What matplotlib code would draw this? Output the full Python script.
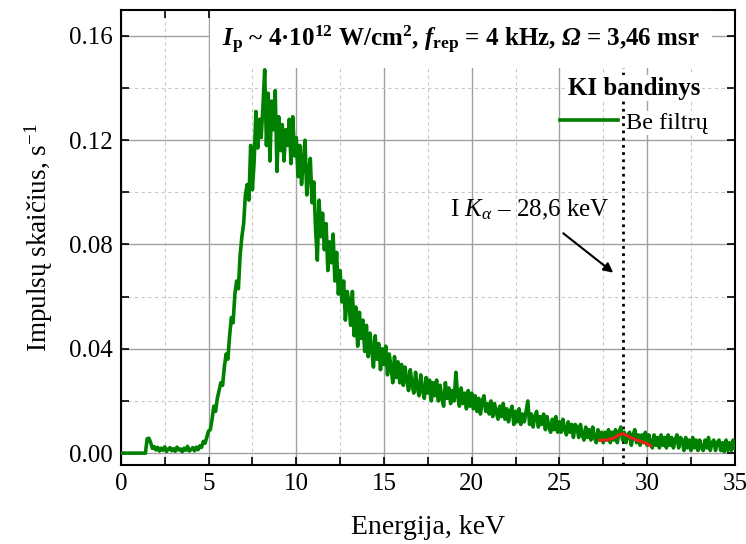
import numpy as np
import matplotlib
matplotlib.use("Agg")
import matplotlib.pyplot as plt
from matplotlib.ticker import MultipleLocator, FormatStrFormatter

plt.rcParams['font.family'] = ['Liberation Serif', 'DejaVu Serif']
plt.rcParams['mathtext.fontset'] = 'custom'
plt.rcParams['mathtext.rm'] = 'Liberation Serif'
plt.rcParams['mathtext.it'] = 'Liberation Serif:italic'
plt.rcParams['mathtext.bf'] = 'Liberation Serif:bold'
plt.rcParams['mathtext.bfit'] = 'Liberation Serif:italic:bold'

# spectrum, 0.1 keV step from 0 to 35 keV
energy = np.round(np.arange(0, 35.01, 0.1), 2)
counts = [
    0, 0, 0, 0, 0, 0, 0, 0, 0, 0,
    0, 0, 0, 0, 0, 0.0055, 0.0057, 0.004, 0.0018, 0.0025,
    0.0012, 0.0022, 0.0008, 0.0019, 0.0011, 0.0024, 0.0006, 0.0015, 0.0021, 0.0009,
    0.0017, 0.0007, 0.0023, 0.0012, 0.0016, 0.0005, 0.0019, 0.0011, 0.0026, 0.0008,
    0.0014, 0.0021, 0.0009, 0.0023, 0.0013, 0.0028, 0.0022, 0.0045, 0.0038, 0.0062,
    0.0085, 0.009, 0.013, 0.018, 0.016, 0.021, 0.024, 0.027, 0.026, 0.033,
    0.038, 0.036, 0.045, 0.052, 0.050, 0.061, 0.066, 0.063, 0.076, 0.083,
    0.088, 0.099, 0.103, 0.097, 0.118, 0.101, 0.112, 0.131, 0.117, 0.128,
    0.121, 0.133, 0.147, 0.118, 0.138, 0.112, 0.135, 0.124, 0.139, 0.108,
    0.129, 0.116, 0.126, 0.112, 0.124, 0.118, 0.128, 0.111, 0.129, 0.114,
    0.121, 0.106, 0.118, 0.103, 0.112, 0.120, 0.099, 0.108, 0.113, 0.096,
    0.104, 0.086, 0.074, 0.097, 0.083, 0.092, 0.078, 0.088, 0.070, 0.081,
    0.073, 0.084, 0.066, 0.077, 0.061, 0.070, 0.058, 0.066, 0.051, 0.062,
    0.058, 0.049, 0.062, 0.045, 0.056, 0.041, 0.054, 0.044, 0.051, 0.039,
    0.049, 0.037, 0.046, 0.040, 0.033, 0.045, 0.036, 0.042, 0.032, 0.040,
    0.034, 0.041, 0.030, 0.038, 0.033, 0.027, 0.037, 0.029, 0.035, 0.027,
    0.034, 0.026, 0.033, 0.028, 0.024, 0.032, 0.026, 0.023, 0.031, 0.025,
    0.022, 0.030, 0.024, 0.021, 0.029, 0.023, 0.028, 0.020, 0.027, 0.022,
    0.028, 0.020, 0.026, 0.021, 0.018, 0.027, 0.021, 0.025, 0.019, 0.024,
    0.020, 0.031, 0.022, 0.018, 0.025, 0.019, 0.023, 0.017, 0.024, 0.018,
    0.023, 0.017, 0.022, 0.016, 0.021, 0.015, 0.020, 0.022, 0.016, 0.019,
    0.015, 0.020, 0.014, 0.019, 0.016, 0.013, 0.018, 0.014, 0.019, 0.013,
    0.017, 0.012, 0.016, 0.018, 0.011, 0.016, 0.012, 0.017, 0.011, 0.015,
    0.012, 0.016, 0.020, 0.011, 0.015, 0.010, 0.014, 0.016, 0.010, 0.014,
    0.011, 0.015, 0.009, 0.014, 0.010, 0.008, 0.013, 0.009, 0.014, 0.008,
    0.012, 0.008, 0.013, 0.009, 0.007, 0.012, 0.008, 0.011, 0.006, 0.011,
    0.010, 0.006, 0.011, 0.007, 0.005, 0.010, 0.006, 0.009, 0.005, 0.010,
    0.006, 0.004, 0.009, 0.005, 0.008, 0.004, 0.008, 0.005, 0.009, 0.004,
    0.008, 0.005, 0.009, 0.004, 0.008, 0.010, 0.005, 0.008, 0.004, 0.007,
    0.008, 0.003, 0.007, 0.009, 0.004, 0.007, 0.003, 0.007, 0.004, 0.008,
    0.003, 0.007, 0.004, 0.002, 0.007, 0.003, 0.006, 0.002, 0.007, 0.003,
    0.006, 0.002, 0.007, 0.003, 0.006, 0.002, 0.005, 0.007, 0.002, 0.006,
    0.005, 0.001, 0.006, 0.002, 0.005, 0.001, 0.006, 0.002, 0.005, 0.001,
    0.005, 0.002, 0.001, 0.005, 0.002, 0.006, 0.001, 0.004, 0.005, 0.001,
    0.004, 0.005, 0.001, 0.004, 0.0005, 0.005, 0.001, 0.004, 0.001, 0.005,
    0.002,
]

# fitted K-alpha line (red)
fit_energy = [27.3, 27.7, 28.1, 28.4, 28.6, 28.9, 29.2, 29.6, 30.0, 30.2]
fit_counts = [0.0050, 0.0050, 0.0058, 0.0070, 0.0075, 0.0066, 0.0055, 0.0046, 0.0036, 0.0028]

k_alpha = 28.6

fig = plt.figure(figsize=(7.46, 5.44), dpi=100)
ax = fig.add_axes([0.162, 0.145, 0.823, 0.837])

ax.plot(energy, counts, color='#008000', lw=2.6, label='Be filtrų', zorder=3)
ax.plot(fit_energy, fit_counts, color='#e8221b', lw=2.2, zorder=4)
ax.axvline(k_alpha, color='black', ls=(0, (1, 1.6)), lw=2.0, zorder=2)

ax.set_xlim(0, 35)
ax.set_ylim(-0.0046, 0.170)
ax.xaxis.set_major_locator(MultipleLocator(5))
ax.xaxis.set_minor_locator(MultipleLocator(2.5))
ax.yaxis.set_major_locator(MultipleLocator(0.04))
ax.yaxis.set_minor_locator(MultipleLocator(0.02))
ax.yaxis.set_major_formatter(FormatStrFormatter('%.2f'))

ax.grid(which='major', color='#a0a0a0', lw=1.0, ls='-', zorder=0)
ax.grid(which='minor', color='#c8c8c8', lw=0.8, ls=(0, (3, 3)), zorder=0)
ax.set_axisbelow(True)

ax.tick_params(which='both', direction='in', top=True, right=True,
               length=6, width=1.2, labelsize=18, pad=6)
for s in ax.spines.values():
    s.set_linewidth(1.5)

ax.set_xlabel('Energija, keV', fontsize=20, labelpad=14)
ax.set_ylabel('Impulsų skaičius, s$^{-1}$', fontsize=19.5, labelpad=10)

title = (r'$\mathbfit{I}_{\mathbf{p}}$ ~ 4·10$^{\mathbf{12}}$ W/cm$^{\mathbf{2}}$, '
         r'$\mathbfit{f}_{\mathbf{rep}}$ = 4 kHz, $\mathbfit{\Omega}$ = 3,46 msr')
ax.text(19.4, 0.1585, title, fontsize=18, fontweight='bold', ha='center', va='center',
        bbox=dict(facecolor='white', edgecolor='none', pad=9), zorder=6)

ax.text(23.3, 0.0932, r'I $K_\alpha$ – 28,6 keV', fontsize=18, ha='center', va='center',
        zorder=6)
ax.annotate('', xy=(28.07, 0.0692), xytext=(25.22, 0.0843), zorder=6,
            arrowprops=dict(arrowstyle='-|>', color='black', lw=1.5, mutation_scale=14,
                            shrinkA=0, shrinkB=0))

leg = ax.legend(loc='upper right', bbox_to_anchor=(0.98, 0.885), frameon=False,
                title='KI bandinys', fontsize=17.5, handlelength=2.4,
                handletextpad=0.33, borderaxespad=0.2,
                title_fontproperties={'weight': 'bold', 'size': 18})
leg.set_zorder(6)
leg.get_title().set_bbox(dict(facecolor='white', edgecolor='none', pad=1))
for t in leg.get_texts():
    t.set_bbox(dict(facecolor='white', edgecolor='none', pad=1))

fig.savefig('out.png', dpi=100)
